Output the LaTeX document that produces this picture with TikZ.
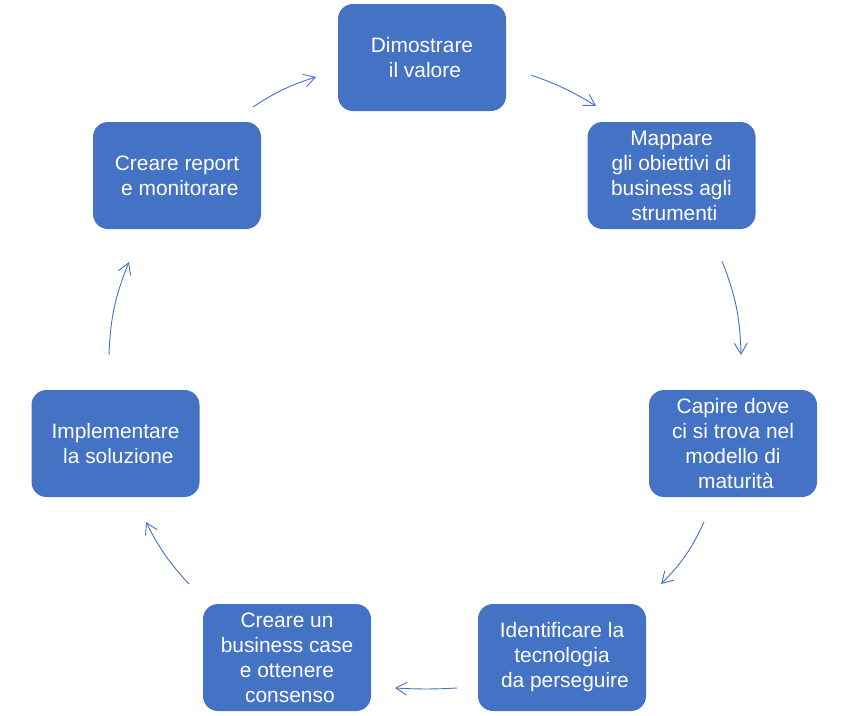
\documentclass[tikz,border=0pt]{standalone}
\usepackage{fontspec}
\setmainfont{Liberation Sans}
\usetikzlibrary{arrows.meta}
\definecolor{boxblue}{HTML}{4472C4}
\newcommand{\lsp}{\hspace*{0.278em}}
\begin{document}
\begin{tikzpicture}[x=1pt,y=-1pt,
  stepbox/.style={draw=none, fill=boxblue, rounded corners=15pt,
    minimum width=168pt, minimum height=107pt, text=white, align=center,
    font=\fontsize{20.9pt}{25pt}\selectfont, inner sep=0pt},
  cyc/.style={draw=boxblue, line width=0.9pt,
    -{Straight Barb[length=11pt,width=13pt]}, bend left=#1}
]
\useasboundingbox (0,0) rectangle (850,715);

\node[stepbox] (n1) at (422,57.5) {Dimostrare\\\lsp il valore};
\node[stepbox] (n2) at (671.5,175.5) {Mappare\\gli obiettivi di\\business agli\\\lsp strumenti};
\node[stepbox] (n3) at (733,443.5) {Capire dove\\ci si trova nel\\modello di\\\lsp maturità};
\node[stepbox] (n4) at (562,657.5) {Identificare la\\tecnologia\\\lsp da perseguire};
\node[stepbox] (n5) at (287,657.5) {Creare un\\business case\\e ottenere\\\lsp consenso};
\node[stepbox] (n6) at (115.5,443.5) {Implementare\\\lsp la soluzione};
\node[stepbox] (n7) at (177,175.5) {Creare report\\\lsp e monitorare};

\coordinate (a1s) at (531,75);  \coordinate (a1e) at (596,106);
\coordinate (a2s) at (722,261); \coordinate (a2e) at (741,355);
\coordinate (a3s) at (704,522); \coordinate (a3e) at (661,584);
\coordinate (a4s) at (457,688); \coordinate (a4e) at (395,688);
\coordinate (a5s) at (189,584); \coordinate (a5e) at (146,522);
\coordinate (a6s) at (109,355); \coordinate (a6e) at (129,262);
\coordinate (a7s) at (253,107); \coordinate (a7e) at (316,77);

\draw[cyc=6]  (a1s) to (a1e);
\draw[cyc=10] (a2s) to (a2e);
\draw[cyc=10] (a3s) to (a3e);
\draw[cyc=3]  (a4s) to (a4e);
\draw[cyc=8]  (a5s) to (a5e);
\draw[cyc=10] (a6s) to (a6e);
\draw[cyc=8]  (a7s) to (a7e);
\end{tikzpicture}
\end{document}
